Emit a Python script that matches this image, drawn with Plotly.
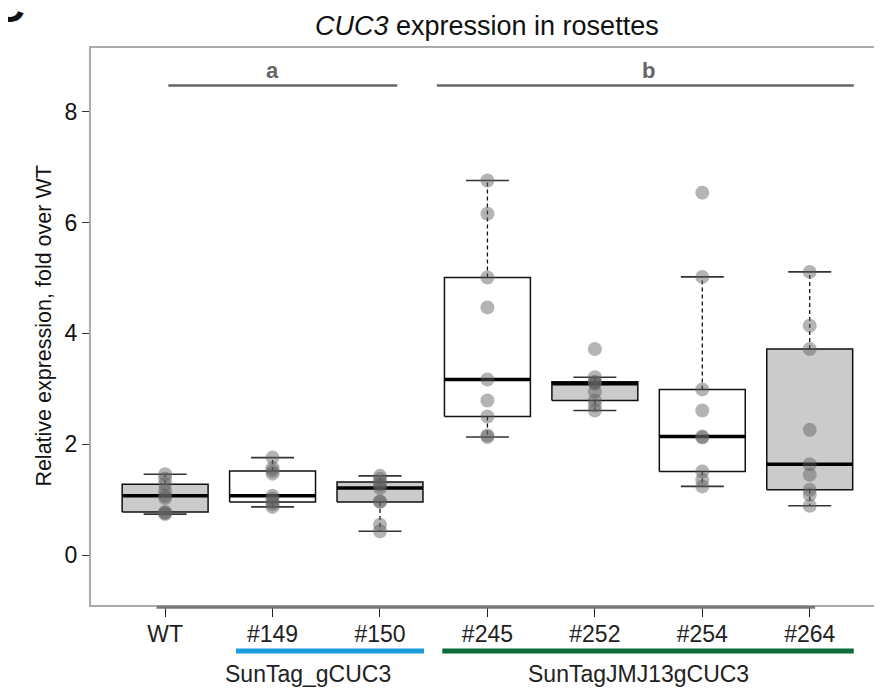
import numpy as np
import plotly.graph_objects as go

# ---------------- data ----------------
categories = ["WT", "#149", "#150", "#245", "#252", "#254", "#264"]
wt_vals   = [1.46, 1.38, 1.28, 1.16, 1.07, 1.03, 0.78, 0.76, 0.74]
l149_vals = [1.76, 1.57, 1.52, 1.47, 1.07, 1.02, 0.96, 0.92, 0.87]
l150_vals = [1.43, 1.38, 1.32, 1.27, 1.21, 0.97, 0.96, 0.55, 0.43]
l245_vals = [6.76, 6.16, 5.01, 4.47, 3.17, 2.79, 2.50, 2.16, 2.13]
l252_vals = [3.72, 3.21, 3.13, 3.11, 3.09, 2.95, 2.79, 2.70, 2.61]
l254_vals = [6.54, 5.02, 2.99, 2.61, 2.14, 2.12, 1.51, 1.36, 1.24]
l264_vals = [5.11, 4.14, 3.72, 2.26, 1.64, 1.45, 1.18, 1.09, 0.89]
series = [wt_vals, l149_vals, l150_vals, l245_vals, l252_vals, l254_vals, l264_vals]
box_filled = [True, False, True, False, True, False, True]

sig_letters = ["a", "b"]
sig_spans = [(1.03, 3.16), (3.53, 7.41)]
sig_letter_x = [2.0, 5.5]

group_names = ["SunTag_gCUC3", "SunTagJMJ13gCUC3"]
group_spans = [(1.66, 3.41), (3.58, 7.41)]
group_label_x = [2.33, 5.41]
group_colors = ["#1b9ddb", "#0b6b3b"]

y_ticks = [0, 2, 4, 6, 8]

# ---------------- helpers ----------------
def fivenum(v):
    x = np.sort(np.asarray(v, dtype=float))
    n = len(x)
    n4 = np.floor((n + 3) / 2) / 2
    d = np.array([1, n4, (n + 1) / 2, n + 1 - n4, n]) - 1
    return 0.5 * (x[np.floor(d).astype(int)] + x[np.ceil(d).astype(int)])

def box_stats(v):
    mn, q1, med, q3, mx = fivenum(v)
    iqr = q3 - q1
    arr = np.asarray(v)
    lo = arr[arr >= q1 - 1.5 * iqr].min()
    hi = arr[arr <= q3 + 1.5 * iqr].max()
    return q1, med, q3, lo, hi

fig = go.Figure()
hw = 0.4     # box half width
sw = 0.2     # staple half width
FONT = "Liberation Sans, Arial, sans-serif"

for i, vals in enumerate(series):
    p = i + 1
    q1, med, q3, lo, hi = box_stats(vals)
    fig.add_trace(go.Scatter(x=[p, p, None, p, p], y=[q3, hi, None, q1, lo], mode="lines",
                             line=dict(color="#111111", width=1.3, dash="4px,3px"),
                             hoverinfo="skip", showlegend=False))
    fig.add_trace(go.Scatter(x=[p - sw, p + sw, None, p - sw, p + sw], y=[hi, hi, None, lo, lo],
                             mode="lines", line=dict(color="#333333", width=1.6),
                             hoverinfo="skip", showlegend=False))
    fig.add_trace(go.Scatter(x=[p - hw, p + hw, p + hw, p - hw, p - hw], y=[q1, q1, q3, q3, q1],
                             mode="lines", fill="toself",
                             fillcolor="#cbcbcb" if box_filled[i] else "#ffffff",
                             line=dict(color="#111111", width=1.5),
                             hoverinfo="skip", showlegend=False))
    fig.add_trace(go.Scatter(x=[p - hw, p + hw], y=[med, med], mode="lines",
                             line=dict(color="#000000", width=3.5),
                             hoverinfo="skip", showlegend=False))

for i, vals in enumerate(series):
    fig.add_trace(go.Scatter(x=[i + 1] * len(vals), y=vals, mode="markers",
                             marker=dict(size=14, color="rgba(96,96,96,0.47)", line=dict(width=0)),
                             showlegend=False, name=categories[i]))

shapes = []
annotations = []
for (x0, x1), lx, lt in zip(sig_spans, sig_letter_x, sig_letters):
    shapes.append(dict(type="line", xref="x", yref="y", x0=x0, x1=x1, y0=8.475, y1=8.475,
                       line=dict(color="#666666", width=2.5)))
    annotations.append(dict(x=lx, y=8.75, xref="x", yref="y", text="<b>%s</b>" % lt,
                            xanchor="center", yanchor="middle",
                            showarrow=False, font=dict(size=22, color="#666666", family=FONT)))
for (x0, x1), lx, name, col in zip(group_spans, group_label_x, group_names, group_colors):
    shapes.append(dict(type="line", xref="x", yref="paper", x0=x0, x1=x1, y0=-0.0825, y1=-0.0825,
                       line=dict(color=col, width=5)))
    annotations.append(dict(x=lx, y=-0.124, xref="x", yref="paper", text=name, showarrow=False,
                            xanchor="center", yanchor="middle",
                            font=dict(size=23, color="#222222", family=FONT)))
shapes.append(dict(type="line", xref="x", yref="paper", x0=0.92, x1=7.05, y0=-0.004, y1=-0.004,
                   line=dict(color="#777777", width=3)))
# title
annotations.append(dict(x=0.498, y=1.0, xref="paper", yref="paper", yshift=22,
                        xanchor="center", yanchor="middle",
                        text="<i>CUC3</i> expression in rosettes", showarrow=False,
                        font=dict(size=27, color="#111111", family=FONT)))
# y title
annotations.append(dict(x=(35 - 83) / 797, y=0.5, xref="paper", yref="paper",
                        xanchor="center", yanchor="middle",
                        text="Relative expression, fold over WT", textangle=-90, showarrow=False,
                        font=dict(size=21.5, color="#111111", family=FONT)))
# panel letter, mostly outside the page
annotations.append(dict(x=(1 - 83) / 797, y=1 + 41 / 557, xref="paper", yref="paper",
                        text="<b>C</b>", showarrow=False, xanchor="center", yanchor="middle",
                        font=dict(size=44, color="#111111", family=FONT)))

fig.update_layout(
    width=882, height=688,
    margin=dict(l=83, r=2, t=40, b=91),
    paper_bgcolor="white", plot_bgcolor="white",
    shapes=shapes, annotations=annotations,
    showlegend=False,
    font=dict(family=FONT, color="#111111"),
    xaxis=dict(range=[0.31, 7.71], tickmode="array", tickvals=list(range(1, 8)), ticktext=categories,
               ticks="outside", ticklen=10, tickwidth=1.2, tickcolor="#222222",
               ticklabelstandoff=-3,
               showline=True, mirror=True, linecolor="#aaaaaa", linewidth=2,
               showgrid=False, zeroline=False, tickfont=dict(size=23, color="#222222")),
    yaxis=dict(range=[-0.9, 9.15], tickmode="array", tickvals=y_ticks,
               ticks="outside", ticklen=7, tickwidth=1.2, tickcolor="#333333",
               showline=True, mirror=True, linecolor="#aaaaaa", linewidth=2,
               showgrid=False, zeroline=False, tickfont=dict(size=23, color="#111111")),
)

fig.write_html("out.html")
